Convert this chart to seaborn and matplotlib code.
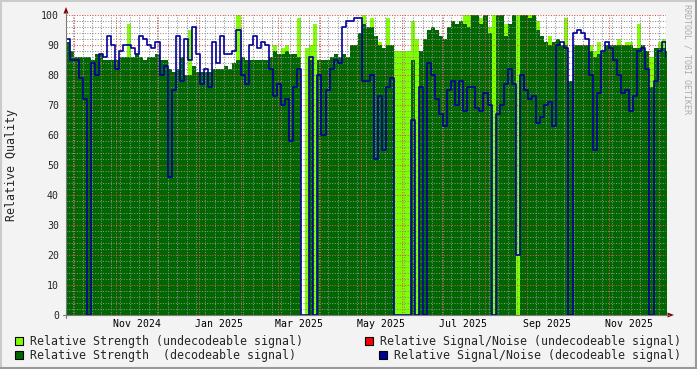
import numpy as np
import pandas as pd
import matplotlib
matplotlib.use('Agg')
import matplotlib.pyplot as plt
import matplotlib.dates as mdates
from matplotlib.patches import Rectangle, Polygon
from matplotlib.lines import Line2D
import seaborn as sns

nan = np.nan

# one sample every 3 days starting 2024-09-25
start_date = '2024-09-25'
step_days = 3

# relative strength of decodeable signal (dark green area)
strength_dec = [
    91, 88, 86, 86, 86, 86, 85, 87, 87, 85,
    85, 85, 85, 86, 86, 86, 86, 87, 86, 85,
    86, 86, 87, 85, 85, 82, 81, 82, 86, 80,
    80, 83, 81, 81, 81, 81, 82, 82, 82, 83,
    82, 84, 85, 86, 85, 85, 85, 85, 85, 85,
    86, 88, 87, 87, 88, 87, 87, 86, nan, 0,
    85, 0, 85, 85, 85, 86, 87, 86, 87, 86,
    90, 90, 94, 97, 96, 96, 93, 90, 89, 90,
    90, 0, 0, 0, 0, 85, 0, 88, 92, 95,
    96, 95, 93, 92, 96, 98, 97, 98, 97, 96,
    100, 100, 97, 100, 94, 0, 100, 100, 93, 97,
    100, 0, 100, 100, 99, 100, 95, 93, 91, 90,
    91, 92, 90, 90, 78, 90, 90, 90, 90, 88,
    86, 87, 88, 90, 90, 90, 90, 90, 90, 90,
    89, 89, 90, 88, 76, 89, 89, 89, 88,
]

# relative strength of undecodeable signal (light green, only where it shows)
strength_undec = [
    nan, nan, nan, nan, nan, nan, nan, nan, nan, nan,
    nan, nan, nan, nan, nan, 97, nan, nan, nan, nan,
    nan, nan, nan, nan, nan, nan, nan, nan, nan, nan,
    95, nan, nan, nan, nan, nan, nan, nan, nan, nan,
    nan, nan, 100, nan, nan, nan, nan, nan, nan, nan,
    nan, 90, nan, 89, 90, nan, nan, 99, nan, 89,
    90, 97, nan, nan, nan, nan, nan, nan, nan, nan,
    nan, nan, nan, 100, nan, 99, nan, 91, nan, 99,
    nan, 88, 88, 88, 88, 98, 92, nan, nan, nan,
    nan, nan, nan, nan, nan, nan, nan, nan, 100, 100,
    nan, nan, 99, nan, 96, 100, nan, nan, 97, nan,
    nan, 100, nan, nan, 100, nan, 98, nan, nan, 93,
    nan, nan, nan, 99, nan, nan, nan, nan, nan, 90,
    88, 91, nan, nan, nan, nan, 92, nan, 91, 91,
    nan, 97, nan, nan, 86, nan, 91, 92, nan,
]

# relative signal/noise of decodeable signal (blue line)
snr_dec = [
    92, 85, 85, 79, 72, 0, 84, 80, 87, 86,
    93, 90, 82, 88, 90, 90, 89, 87, 93, 92,
    90, 89, 91, 80, 83, 46, 75, 93, 78, 92,
    85, 96, 87, 77, 82, 76, 91, 84, 93, 87,
    87, 88, 95, 80, 77, 90, 93, 89, 91, 90,
    82, 73, 77, 70, 72, 58, 76, 82, 0, 0,
    86, 0, 80, 60, 75, 82, 85, 84, 96, 98,
    98, 99, 99, 78, 78, 80, 52, 73, 55, 76,
    79, 0, 0, 0, 0, 65, 0, 76, 0, 84,
    80, 72, 67, 63, 75, 78, 70, 78, 68, 76,
    76, 69, 68, 74, 70, 0, 67, 70, 77, 82,
    77, 20, 80, 75, 72, 73, 64, 66, 70, 71,
    63, 90, 91, 89, 0, 94, 95, 94, 92, 80,
    55, 74, 88, 91, 89, 85, 80, 74, 75, 68,
    73, 88, 89, 82, 0, 78, 88, 91, 86,
]

tick_labels = ['Nov 2024', 'Jan 2025', 'Mar 2025', 'May 2025',
               'Jul 2025', 'Sep 2025', 'Nov 2025']
label_months = ['2024-11-01', '2025-01-01', '2025-03-01', '2025-05-01',
                '2025-07-01', '2025-09-01', '2025-11-01']

legend_labels = ['Relative Strength (undecodeable signal)',
                 'Relative Strength  (decodeable signal)',
                 'Relative Signal/Noise (undecodeable signal)',
                 'Relative Signal/Noise (decodeable signal)']

c_light = '#80FF00'
c_dark = '#006600'
c_red = '#FF0000'
c_blue = '#000099'

# ---------------- build frame ----------------
n = len(strength_dec)
dates = pd.date_range(start_date, periods=n, freq=f'{step_days}D')
edges = dates.append(pd.DatetimeIndex([dates[-1] + pd.Timedelta(days=step_days)]))

df = pd.DataFrame({
    'date': edges,
    'dec': np.append(np.nan_to_num(strength_dec), np.nan_to_num(strength_dec[-1])),
    'undec': np.append(np.nan_to_num(strength_undec), 0),
    'snr': np.append(snr_dec, snr_dec[-1]),
})

sns.set_style('white')
plt.rcParams['font.family'] = ['DejaVu Sans Mono']

W, H = 697, 369
fig = plt.figure(figsize=(W / 100, H / 100), dpi=100, facecolor='#F3F3F3')
ax = fig.add_axes([66 / W, 1 - 315 / H, 600 / W, 300 / H])
ax.set_facecolor('white')


def fx(x):
    return x / W


def fy(y):
    return 1 - y / H


# areas: undecodeable first, decodeable drawn over it
ax.fill_between(df['date'], 0, df['undec'], step='post', color=c_light, lw=0, zorder=1)
ax.fill_between(df['date'], 0, df['dec'], step='post', color=c_dark, lw=0, zorder=1.2)
sns.lineplot(data=df, x='date', y='snr', drawstyle='steps-post', color=c_blue,
             lw=1.2, ax=ax, zorder=4, legend=False)

x0 = pd.Timestamp('2024-09-24 17:00')
x1 = pd.Timestamp('2025-12-13 06:00')
ax.set_xlim(x0, x1)
ax.set_ylim(0, 100)

# grid like rrdtool: dotted, drawn over the areas
ax.set_axisbelow(False)
ax.set_yticks(range(0, 101, 10))
ax.set_yticks(range(0, 101, 2), minor=True)
ax.xaxis.set_major_locator(mdates.MonthLocator())
ax.xaxis.set_minor_locator(mdates.WeekdayLocator(byweekday=mdates.MO))
ax.set_xticklabels([])
ax.grid(which='major', color=(0.87, 0.31, 0.31, 0.45), linestyle=(0, (1, 1.5)), lw=0.75)
ax.grid(which='minor', color=(0.56, 0.56, 0.56, 0.4), linestyle=(0, (1, 1.5)), lw=0.75)
ax.tick_params(axis='y', which='major', length=2.5, width=0.8, color='#808080',
               labelsize=7.1, pad=2.5)
ax.tick_params(axis='y', which='minor', length=1.5, width=0.8, color='#808080')
ax.tick_params(axis='x', which='major', length=3, width=0.8, color=(0.87, 0.31, 0.31))
ax.tick_params(axis='x', which='minor', length=2, width=0.8, color='#A0A0A0')
ax.set_xlabel('')
ax.set_ylabel('')
for s in ax.spines.values():
    s.set_visible(False)

# month labels centred half a month after the month start
for lab, m in zip(tick_labels, label_months):
    ax.text(pd.Timestamp(m) + pd.Timedelta(days=15), -0.03, lab,
            transform=ax.get_xaxis_transform(), ha='center', va='center',
            fontsize=7.1, color='black')

# axes lines and arrows
axis_col = '#7A7A7A'
arrow_col = '#7F0000'
fig.add_artist(Line2D([fx(66), fx(66)], [fy(318), fy(12)], color=axis_col, lw=0.8))
fig.add_artist(Line2D([fx(63), fx(669)], [fy(315), fy(315)], color=axis_col, lw=0.8))
fig.add_artist(Polygon([[fx(63.5), fy(13.5)], [fx(68.5), fy(13.5)], [fx(66), fy(7)]],
                       closed=True, transform=fig.transFigure, color=arrow_col, lw=0))
fig.add_artist(Polygon([[fx(667.5), fy(312.5)], [fx(667.5), fy(317.5)], [fx(674), fy(315)]],
                       closed=True, transform=fig.transFigure, color=arrow_col, lw=0))

# y label and watermark
fig.text(fx(12), fy(165), 'Relative Quality', rotation=90, ha='center', va='center',
         fontsize=8.4)
fig.text(fx(687), fy(4), 'RRDTOOL / TOBI OETIKER', rotation=270, ha='center', va='top',
         fontsize=6, color='#ABABAB')

# legend
legend_pos = [(15, 341, c_light), (15, 355, c_dark), (365, 341, c_red), (379, 355, c_blue)]
for lab, (lx, ly, col) in zip(legend_labels, legend_pos):
    fig.add_artist(Rectangle((fx(lx), fy(ly + 4)), 8 / W, 8 / H, transform=fig.transFigure,
                             facecolor=col, edgecolor='black', lw=0.8))
    fig.text(fx(lx + 15), fy(ly), lab, ha='left', va='center', fontsize=8.4)

# 3d frame around the image
fig.add_artist(Line2D([0, 1], [fy(0.5), fy(0.5)], color='#CBCBCB', lw=1.5))
fig.add_artist(Line2D([fx(0.5), fx(0.5)], [0, 1], color='#CBCBCB', lw=1.5))
fig.add_artist(Line2D([0, 1], [fy(368), fy(368)], color='#999999', lw=1.5))
fig.add_artist(Line2D([fx(696), fx(696)], [0, 1], color='#999999', lw=1.5))

fig.savefig('out.png', dpi=100, facecolor=fig.get_facecolor())
